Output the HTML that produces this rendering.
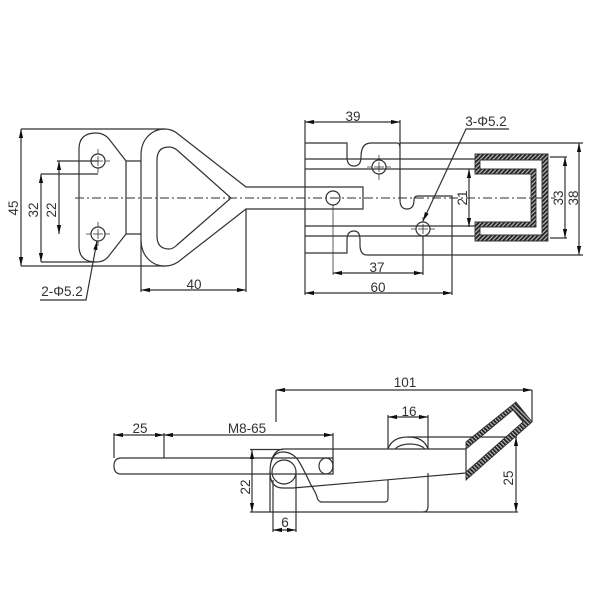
<!DOCTYPE html>
<html>
<head>
<meta charset="utf-8">
<style>
html,body{margin:0;padding:0;background:#fff;width:600px;height:600px;overflow:hidden}
svg{display:block}
text{font-family:"Liberation Sans",sans-serif;font-size:13.5px;fill:#333;text-anchor:middle}
</style>
</head>
<body>
<svg width="600" height="600" viewBox="0 0 600 600" xmlns="http://www.w3.org/2000/svg">
<defs>
<marker id="a" viewBox="0 0 9 5" refX="9" refY="2.5" markerWidth="9" markerHeight="5" markerUnits="userSpaceOnUse" orient="auto-start-reverse"><path d="M0 .4L9 2.500L0 4.600Z" fill="#111"/></marker>
<pattern id="h" width="3" height="3" patternUnits="userSpaceOnUse" patternTransform="rotate(45)"><rect width="3" height="3" fill="#bbb"/><rect width="1.800" height="3" fill="#222"/></pattern>
<pattern id="k" width="3" height="3" patternUnits="userSpaceOnUse" patternTransform="rotate(-45)"><rect width="3" height="3" fill="#bbb"/><rect width="1.800" height="3" fill="#222"/></pattern>
<filter id="b"><feGaussianBlur stdDeviation="0.3"/></filter>
</defs>
<g filter="url(#b)">
<g fill="none" stroke="#333" stroke-width="1.200">
<!-- top view: left plate -->
<path d="M79 149Q79 133 96 133Q104 133 109 139L126 161V234L108 257Q104 262 96 262Q79 262 79 246Z"/>
<path d="M126 161H141M126 234H141"/>
<!-- triangle handle -->
<path d="M141 155C141 139 152 129 165 129Q172 129 178 134L246 187H363V209H246L178 262Q172 266 165 266C152 266 141 256 141 240Z"/>
<path d="M157 160Q157 147 169 147Q173 147 177 150L231 198L177 245Q173 249 169 249Q157 249 157 236Z"/>
<circle cx="98" cy="161" r="7"/><circle cx="98" cy="234" r="7"/><circle cx="333" cy="198" r="7"/><circle cx="379" cy="167" r="7"/><circle cx="423" cy="229" r="7"/>
<path d="M98 156V166M93 161H103M98 229V239M93 234H103M374 167H384M379 162V172M418 229H428M423 224V234M333 205V275M367 167H372M386 167H391M379 155V160M379 174V180M411 229H416M430 229H435M423 217V222M98 149V154M98 168V173M86 161H91M105 161H110M98 222V227M98 241V246M86 234H91M105 234H110" stroke-width=".8"/>
<path d="M75 198H555" stroke-dasharray="9 3 2 3" stroke="#555"/>
<!-- right plate -->
<path d="M305 143H347V157Q347 166 354 166Q361 166 361 157Q361 143 371 143H397Q400 143 400 148V200Q400 209 407 209Q414 209 414 200Q414 196 418 196H452V255H367Q360 255 360 245V240Q360 231 354 231Q347 231 347 240V253H305"/>
<path d="M305 159H475M305 169H480M305 226H480M305 236H475"/>
<!-- dims top view -->
<path d="M21 129H165M21 266H165M57 161H98M41 174H98M41 262H95"/>
<path d="M305 120V295M400 120V148M423 236V275M452 255V295M141 240V292M246 209V292"/>
<path d="M400 143H583M452 255H583M550 157H567M550 238H567"/>
<path d="M40 300H86L97 241" marker-end="url(#a)"/>
<path d="M509 129H466L423 221" marker-end="url(#a)"/>
<path d="M21 129V266" marker-start="url(#a)" marker-end="url(#a)"/>
<path d="M41 174V262" marker-start="url(#a)" marker-end="url(#a)"/>
<path d="M59 161V234" marker-start="url(#a)" marker-end="url(#a)"/>
<path d="M141 290H246" marker-start="url(#a)" marker-end="url(#a)"/>
<path d="M305 122H400" marker-start="url(#a)" marker-end="url(#a)"/>
<path d="M333 273H423" marker-start="url(#a)" marker-end="url(#a)"/>
<path d="M305 293H452" marker-start="url(#a)" marker-end="url(#a)"/>
<path d="M469 169V227" marker-start="url(#a)" marker-end="url(#a)"/>
<path d="M565 157V238" marker-start="url(#a)" marker-end="url(#a)"/>
<path d="M579 143V255" marker-start="url(#a)" marker-end="url(#a)"/>
<!-- side view -->
<path d="M275 458H121Q114 458 114 466Q114 474 121 474H333V458H275"/>
<ellipse cx="326" cy="466" rx="7" ry="8"/>
<circle cx="284" cy="472" r="12"/>
<path d="M298 460Q302 466 311 485Q316 493 317 497Q318 502 322 502H385Q388 502 388 498V480"/>
<path d="M298 460Q292 452 283 452Q270 452 270 472Q270 488 283 488H293L466 473"/>
<path d="M271 462Q274 450 283 449H466M250 449.500H283"/>
<path d="M250 512H518M270 472V512M273 480V532M296 474V532"/>
<path d="M388 449Q392 437 408 437Q424 437 428 449M395 449Q400 444 410 444Q420 444 425 449"/>
<path d="M408 437H517M428 473V506Q428 512 423 512"/>
<path d="M466 449V473"/>
<path d="M114 433V458M164 433V458M333 433V472M276 390V422M532 390V422M388 415V449M428 415V449"/>
<path d="M114 435H164" marker-start="url(#a)" marker-end="url(#a)"/>
<path d="M164 435H333" marker-start="url(#a)" marker-end="url(#a)"/>
<path d="M252 450V512" marker-start="url(#a)" marker-end="url(#a)"/>
<path d="M273 530H296" marker-start="url(#a)" marker-end="url(#a)"/>
<path d="M388 417H428" marker-start="url(#a)" marker-end="url(#a)"/>
<path d="M516 437V512" marker-start="url(#a)" marker-end="url(#a)"/>
<path d="M276 390H532" marker-start="url(#a)" marker-end="url(#a)"/>
</g>
<!-- hatched channel -->
<path fill="url(#h)" fill-rule="evenodd" stroke="#333" stroke-width=".9" d="M475 154H548V241H475V222H531V174H475ZM480 160H542V235H480V227H536V169H480Z"/>
<!-- hatched handle end -->
<path fill="url(#k)" stroke="#333" stroke-width=".9" d="M466 442L516 402L532 422L466 480V472L523 422L513 410L466 449Z"/>
<text transform="translate(18 208) rotate(-90)">45</text>
<text transform="translate(38 210) rotate(-90)">32</text>
<text transform="translate(56 210) rotate(-90)">22</text>
<text x="194" y="289">40</text>
<text x="62" y="296">2-Φ5.2</text>
<text x="353" y="121">39</text>
<text x="486" y="126">3-Φ5.2</text>
<text x="377" y="272">37</text>
<text x="378" y="292">60</text>
<text transform="translate(467 198) rotate(-90)">21</text>
<text transform="translate(563 198) rotate(-90)">33</text>
<text transform="translate(578 198) rotate(-90)">38</text>
<text x="140" y="433">25</text>
<text x="247" y="433">M8-65</text>
<text transform="translate(250 487) rotate(-90)">22</text>
<text x="285" y="527">6</text>
<text x="409" y="416">16</text>
<text x="405" y="387">101</text>
<text transform="translate(513 478) rotate(-90)">25</text>
</g>
</svg>
</body>
</html>
